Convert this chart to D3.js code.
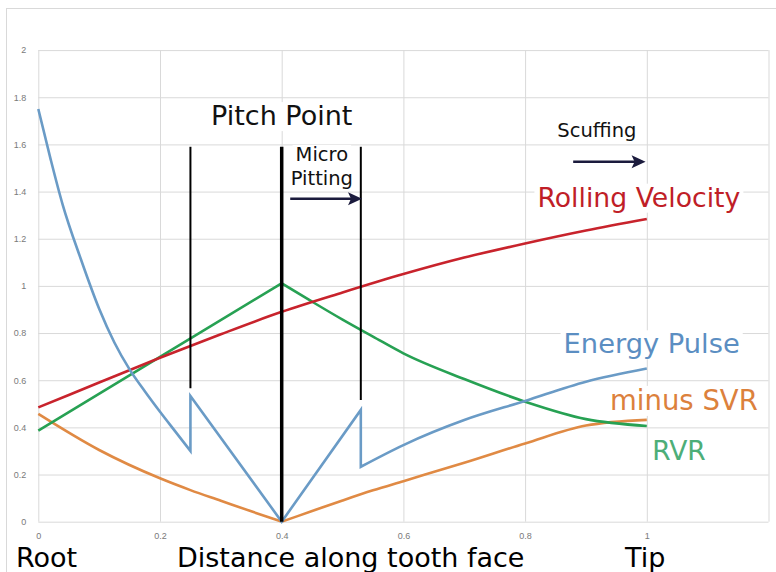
<!DOCTYPE html>
<html><head><meta charset="utf-8">
<script src="https://cdn.jsdelivr.net/npm/d3@7"></script>
<style>html,body{margin:0;padding:0;background:#fff;} svg{display:block;}</style>
</head><body><svg id="c" width="776" height="572"></svg>
<script>
// ---------------- data ----------------
const xTickValues = [0, 0.2, 0.4, 0.6, 0.8, 1];
const xTickLabels = ["0", "0.2", "0.4", "0.6", "0.8", "1"];
const xGridValues = [0, 0.2, 0.4, 0.6, 0.8, 1, 1.2];
const yTickValues = [0, 0.2, 0.4, 0.6, 0.8, 1, 1.2, 1.4, 1.6, 1.8, 2];
const yTickLabels = ["0", "0.2", "0.4", "0.6", "0.8", "1", "1.2", "1.4", "1.6", "1.8", "2"];

const rollingX = [0, 0.1, 0.2, 0.3, 0.4, 0.5, 0.6, 0.7, 0.8, 0.9, 1];
const rollingY = [0.485, 0.59, 0.695, 0.795, 0.89, 0.972, 1.05, 1.12, 1.18, 1.235, 1.284];

const rvrX = [0, 0.2, 0.4, 0.45, 0.5, 0.55, 0.6, 0.7, 0.8, 0.9, 1];
const rvrY = [0.386, 0.699, 1.011, 0.933, 0.857, 0.785, 0.714, 0.605, 0.509, 0.435, 0.406];

const svrX = [0, 0.1, 0.2, 0.25, 0.3, 0.35, 0.4, 0.45, 0.5, 0.55, 0.6, 0.7, 0.8, 0.9, 1];
const svrY = [0.457, 0.304, 0.184, 0.134, 0.089, 0.044, 0, 0.045, 0.09, 0.133, 0.172, 0.25, 0.332, 0.408, 0.432];

const energyX = [0, 0.02, 0.04, 0.07, 0.1, 0.125, 0.15, 0.175, 0.2, 0.225, 0.25, 0.25, 0.4, 0.53, 0.53, 0.6, 0.7, 0.8, 0.9, 1];
const energyY = [1.75, 1.54, 1.345, 1.113, 0.903, 0.76, 0.646, 0.553, 0.466, 0.383, 0.3, 0.533, 0, 0.474, 0.233, 0.325, 0.431, 0.512, 0.594, 0.65];

// vertical marker lines (data coords)
const markerX = [0.25, 0.4, 0.53];
const markerBottom = [0.566, 0, 0.516];
const markerTop = [1.59, 1.59, 1.59];

// arrows (data coords)
const arrowNames = ["Micro Pitting", "Scuffing"];
const arrowX0 = [0.414, 0.879];
const arrowX1 = [0.532, 0.998];
const arrowY = [1.37, 1.527];

// annotation labels (data coords of anchor)
const labelTexts = ["Pitch Point", "Micro", "Pitting", "Scuffing", "Rolling Velocity", "Energy Pulse", "minus SVR", "RVR"];
const labelX = [0.4, 0.466, 0.466, 0.918, 0.987, 1.008, 1.061, 1.053];
const labelY = [1.682, 1.53, 1.43, 1.633, 1.336, 0.714, 0.474, 0.262];

// ---------------- layout ----------------
const svg = d3.select("#c");
const x = d3.scaleLinear().domain([0, 1.2]).range([38.3, 768.5]);
const y = d3.scaleLinear().domain([0, 2]).range([521.7, 50.1]);

const FONT = "'DejaVu Sans', Verdana, sans-serif";

// outer chart border
svg.append("rect").attr("x", 6.5).attr("y", 8.5).attr("width", 900).attr("height", 900)
  .attr("fill", "none").attr("stroke", "#d9d9d9").attr("stroke-width", 1);

// gridlines
const gGrid = svg.append("g");
gGrid.append("g").attr("transform", `translate(${x(0)},0)`)
  .call(d3.axisLeft(y).tickValues(yTickValues).tickSize(-(x(1.2) - x(0))).tickFormat(""))
  .call(g => g.select(".domain").remove())
  .call(g => g.selectAll("line").attr("stroke", "#d9d9d9"));
gGrid.append("g").attr("transform", `translate(0,${y(0)})`)
  .call(d3.axisBottom(x).tickValues(xGridValues).tickSize(-(y(0) - y(2))).tickFormat(""))
  .call(g => g.select(".domain").remove())
  .call(g => g.selectAll("line").attr("stroke", "#d9d9d9"));

// tick labels
const yAx = svg.append("g").attr("transform", `translate(${x(0) - 9},0)`)
  .call(d3.axisLeft(y).tickValues(yTickValues).tickSize(0).tickFormat((d, i) => yTickLabels[i]));
yAx.select(".domain").remove();
yAx.selectAll("text").attr("fill", "#7a7a7a").style("font-family", "'Liberation Sans', Arial, sans-serif").style("font-size", "9px");

const xAx = svg.append("g").attr("transform", `translate(0,${y(0) + 8})`)
  .call(d3.axisBottom(x).tickValues(xTickValues).tickSize(0).tickFormat((d, i) => xTickLabels[i]));
xAx.select(".domain").remove();
xAx.selectAll("text").attr("fill", "#7a7a7a").style("font-family", "'Liberation Sans', Arial, sans-serif").style("font-size", "9px");

// ---------------- labels (with white boxes) ----------------
const labelStyle = [
  {size: 27, fill: "#111"},
  {size: 19.5, fill: "#111"},
  {size: 19.5, fill: "#111"},
  {size: 19.5, fill: "#111"},
  {size: 26.7, fill: "#c01e27"},
  {size: 27.3, fill: "#5b8ec2"},
  {size: 27.5, fill: "#dc813c"},
  {size: 26.5, fill: "#4dae78"}
];
const gBoxes = svg.append("g");
const gSeries = svg.append("g");
const gLabels = svg.append("g");
labelTexts.forEach((t, i) => {
  const txt = gLabels.append("text")
    .attr("x", x(labelX[i])).attr("y", y(labelY[i]))
    .attr("text-anchor", "middle")
    .style("font-family", FONT).style("font-size", labelStyle[i].size + "px")
    .attr("fill", labelStyle[i].fill).text(t);
  const bb = txt.node().getBBox();
  gBoxes.append("rect").attr("x", bb.x - 3).attr("y", bb.y + 2).attr("width", bb.width + 6).attr("height", bb.height - 2)
    .attr("fill", "#fff");
});

// ---------------- series ----------------
function seriesPath(xs, ys) {
  // split at jumps (equal x) and at turning points; smooth elsewhere
  const pts = xs.map((v, i) => [v, ys[i]]);
  const breaks = [0];
  for (let i = 1; i < pts.length - 1; i++) {
    const d0 = pts[i][1] - pts[i - 1][1], d1 = pts[i + 1][1] - pts[i][1];
    const jump = pts[i][0] === pts[i - 1][0] || pts[i][0] === pts[i + 1][0];
    if (jump || Math.sign(d0) !== Math.sign(d1)) breaks.push(i);
  }
  breaks.push(pts.length - 1);
  let d = "";
  for (let k = 0; k < breaks.length - 1; k++) {
    const run = pts.slice(breaks[k], breaks[k + 1] + 1);
    const hasJump = run.some((p, j) => j > 0 && p[0] === run[j - 1][0]);
    const gen = d3.line().x(p => x(p[0])).y(p => y(p[1]))
      .curve(hasJump || run.length < 3 ? d3.curveLinear : d3.curveMonotoneX);
    let s = gen(run);
    if (k > 0) s = "L" + s.slice(1);
    d += s;
  }
  return d;
}
const seriesDefs = [
  {xs: svrX, ys: svrY, color: "#e08a44"},
  {xs: rvrX, ys: rvrY, color: "#27a153"},
  {xs: rollingX, ys: rollingY, color: "#c8232c"},
  {xs: energyX, ys: energyY, color: "#6a9bc6"}
];
seriesDefs.forEach(s => {
  gSeries.append("path").attr("d", seriesPath(s.xs, s.ys))
    .attr("fill", "none").attr("stroke", s.color).attr("stroke-width", 2.6)
    .attr("stroke-linejoin", "miter").attr("stroke-linecap", "butt");
});

// ---------------- vertical marker lines ----------------
markerX.forEach((mx, i) => {
  svg.append("line")
    .attr("x1", x(mx)).attr("x2", x(mx))
    .attr("y1", y(markerBottom[i])).attr("y2", y(markerTop[i]))
    .attr("stroke", "#000").attr("stroke-width", i === 1 ? 3.5 : 2);
});

// ---------------- arrows ----------------
arrowNames.forEach((n, i) => {
  const x0 = x(arrowX0[i]), x1 = x(arrowX1[i]), yy = y(arrowY[i]);
  svg.append("line").attr("x1", x0).attr("x2", x1 - 10).attr("y1", yy).attr("y2", yy)
    .attr("stroke", "#1b1b3d").attr("stroke-width", 2.5);
  svg.append("path").attr("d", `M${x1},${yy} L${x1 - 14},${yy - 6.5} L${x1 - 11},${yy} L${x1 - 14},${yy + 6.5} Z`)
    .attr("fill", "#1b1b3d");
});

// ---------------- bottom captions ----------------
const captionTexts = ["Root", "Distance along tooth face", "Tip"];
const captionLeft = [16, 177, 625];
captionTexts.forEach((t, i) => {
  svg.append("text").attr("x", captionLeft[i]).attr("y", 566.7)
    .style("font-family", FONT).style("font-size", "27px").attr("fill", "#000").text(t);
});
</script>
</body></html>
